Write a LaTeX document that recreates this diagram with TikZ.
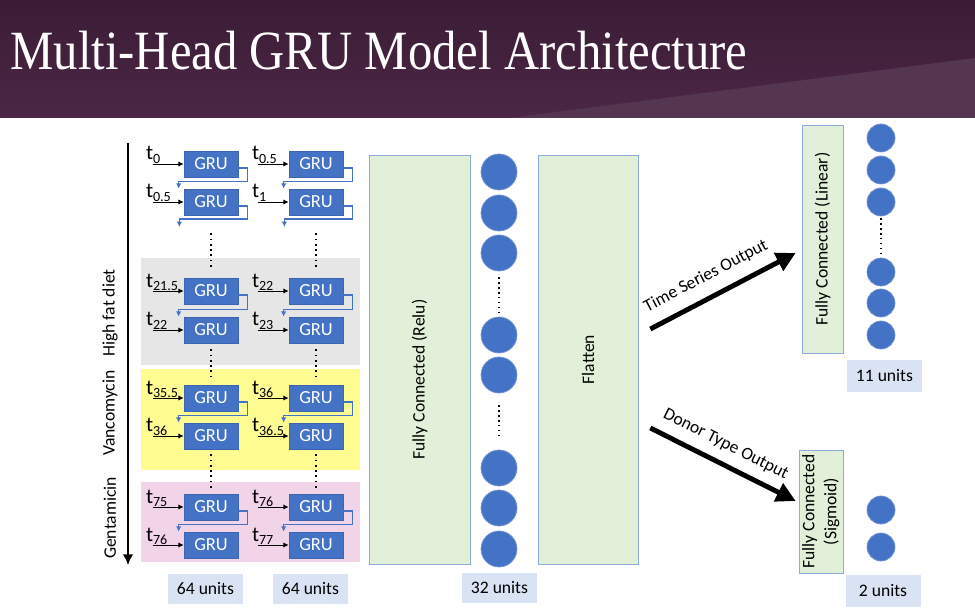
\documentclass[tikz,border=0pt]{standalone}
\usepackage{fontspec}
\setmainfont{Carlito}
\newfontfamily\titlefont[FakeStretch=0.88]{Liberation Serif}
\usepackage{tikz}
\usetikzlibrary{arrows.meta, positioning, shapes.misc}

\definecolor{gruBlue}{RGB}{68,114,196}
\definecolor{gruEdge}{RGB}{60,100,175}
\definecolor{fcGreen}{RGB}{226,240,217}
\definecolor{fcEdge}{RGB}{143,170,220}
\definecolor{unitsBlue}{RGB}{218,227,243}
\definecolor{phaseGray}{RGB}{231,230,230}
\definecolor{phaseYellow}{RGB}{255,252,145}
\definecolor{phasePink}{RGB}{242,212,232}
\definecolor{headTop}{RGB}{58,28,52}
\definecolor{headBottom}{RGB}{76,39,71}
\definecolor{headLight}{RGB}{84,54,80}

\newcommand{\tsub}[1]{t\textsubscript{#1}}

\tikzstyle{gru} = [rectangle, minimum width=1.08cm, minimum height=0.52cm, inner sep=0pt, text centered, draw=gruEdge, fill=gruBlue, text=white, font={\fontsize{10.5pt}{12}\selectfont}]
\tikzstyle{tin} = [anchor=base west, inner sep=0pt, font={\fontsize{12pt}{13}\selectfont}]
\tikzstyle{inarrow} = [-{Latex[length=3pt,width=3pt]}, line width=0.5pt]
\tikzstyle{recur} = [-{Latex[length=3pt,width=3pt]}, draw=gruBlue, line width=0.6pt]
\tikzstyle{skipline} = [dotted, line width=1pt]
\tikzstyle{fcbox} = [rectangle, draw=fcEdge, fill=fcGreen, text centered, inner sep=0pt]
\tikzstyle{unit} = [circle, minimum size=0.72cm, inner sep=0pt, fill=gruBlue, draw=gruBlue!75!white]
\tikzstyle{smallunit} = [unit, minimum size=0.56cm]
\tikzstyle{unitsbox} = [rectangle, minimum width=1.5cm, minimum height=0.6cm, fill=unitsBlue]
\tikzstyle{phaselabel} = [rotate=90, inner sep=1pt, font={\fontsize{10pt}{12}\selectfont}]
\tikzstyle{outarrow} = [line width=2.8pt, -{Triangle[length=11pt,width=11pt]}]
\tikzset{
  font={\fontsize{10pt}{12}\selectfont}}

\begin{document}
\begin{tikzpicture}[node distance = 0.76cm]
    \useasboundingbox (0,0) rectangle (19.5,-12.24);
    \fill[white] (0,0) rectangle (19.5,-12.24);

    % slide header
    \shade[top color=headTop, bottom color=headBottom] (0,0) rectangle (19.5,-2.36);
    \fill[headLight] (10.2,-2.36) -- (19.5,-1.16) -- (19.5,-2.36) -- cycle;
    \node (title) [anchor=base west, text=white, inner sep=0pt, font={\titlefont\fontsize{31.5pt}{36pt}\selectfont}] at (0.20,-1.40) {Multi-Head GRU Model Architecture};

    % treatment phases
    \fill[phaseGray] (2.82,-5.16) rectangle (7.20,-7.30);
    \fill[phaseYellow] (2.82,-7.38) rectangle (7.20,-9.40);
    \fill[phasePink] (2.82,-9.64) rectangle (7.20,-11.24);

    \coordinate (axtop) at (2.56,-2.86);
    \coordinate (axbot) at (2.56,-11.30);
    \draw [line width=1.3pt, -{Latex[length=6pt,width=6pt]}] (axtop) -- (axbot);
    \node (hfd) [phaselabel] at (2.20,-6.26) {High fat diet};
    \node (vanc) [phaselabel] at (2.20,-8.26) {Vancomycin};
    \node (gent) [phaselabel] at (2.20,-10.36) {Gentamicin};

    % GRU layers
    \node (g11) [gru] at (4.22,-3.28) {GRU};
    \node (g12) [gru, below of=g11] {GRU};
    \node (g13) [gru] at (4.22,-5.82) {GRU};
    \node (g14) [gru, below of=g13, yshift=-0.02cm] {GRU};
    \node (g15) [gru] at (4.22,-7.96) {GRU};
    \node (g16) [gru, below of=g15] {GRU};
    \node (g17) [gru] at (4.22,-10.14) {GRU};
    \node (g18) [gru, below of=g17] {GRU};
    \node (g21) [gru, right of=g11, xshift=1.34cm] {GRU};
    \node (g22) [gru, right of=g12, xshift=1.34cm] {GRU};
    \node (g23) [gru, right of=g13, xshift=1.34cm] {GRU};
    \node (g24) [gru, right of=g14, xshift=1.34cm] {GRU};
    \node (g25) [gru, right of=g15, xshift=1.34cm] {GRU};
    \node (g26) [gru, right of=g16, xshift=1.34cm] {GRU};
    \node (g27) [gru, right of=g17, xshift=1.34cm] {GRU};
    \node (g28) [gru, right of=g18, xshift=1.34cm] {GRU};

    \node (t11) [tin] at ([xshift=-0.76cm, yshift=0.08cm]g11.west) {\tsub{0}};
    \node (t12) [tin] at ([xshift=-0.76cm, yshift=0.08cm]g12.west) {\tsub{0.5}};
    \node (t13) [tin] at ([xshift=-0.76cm, yshift=0.08cm]g13.west) {\tsub{21.5}};
    \node (t14) [tin] at ([xshift=-0.76cm, yshift=0.08cm]g14.west) {\tsub{22}};
    \node (t15) [tin] at ([xshift=-0.76cm, yshift=0.08cm]g15.west) {\tsub{35.5}};
    \node (t16) [tin] at ([xshift=-0.76cm, yshift=0.08cm]g16.west) {\tsub{36}};
    \node (t17) [tin] at ([xshift=-0.76cm, yshift=0.08cm]g17.west) {\tsub{75}};
    \node (t18) [tin] at ([xshift=-0.76cm, yshift=0.08cm]g18.west) {\tsub{76}};
    \node (t21) [tin] at ([xshift=-0.74cm, yshift=0.08cm]g21.west) {\tsub{0.5}};
    \node (t22) [tin] at ([xshift=-0.74cm, yshift=0.08cm]g22.west) {\tsub{1}};
    \node (t23) [tin] at ([xshift=-0.74cm, yshift=0.08cm]g23.west) {\tsub{22}};
    \node (t24) [tin] at ([xshift=-0.74cm, yshift=0.08cm]g24.west) {\tsub{23}};
    \node (t25) [tin] at ([xshift=-0.74cm, yshift=0.08cm]g25.west) {\tsub{36}};
    \node (t26) [tin] at ([xshift=-0.74cm, yshift=0.08cm]g26.west) {\tsub{36.5}};
    \node (t27) [tin] at ([xshift=-0.74cm, yshift=0.08cm]g27.west) {\tsub{76}};
    \node (t28) [tin] at ([xshift=-0.74cm, yshift=0.08cm]g28.west) {\tsub{77}};

    \draw [inarrow] ([xshift=0.14cm]t11.west |- g11.west) -- (g11.west);
    \draw [inarrow] ([xshift=0.14cm]t12.west |- g12.west) -- (g12.west);
    \draw [inarrow] ([xshift=0.14cm]t13.west |- g13.west) -- (g13.west);
    \draw [inarrow] ([xshift=0.14cm]t14.west |- g14.west) -- (g14.west);
    \draw [inarrow] ([xshift=0.14cm]t15.west |- g15.west) -- (g15.west);
    \draw [inarrow] ([xshift=0.14cm]t16.west |- g16.west) -- (g16.west);
    \draw [inarrow] ([xshift=0.14cm]t17.west |- g17.west) -- (g17.west);
    \draw [inarrow] ([xshift=0.14cm]t18.west |- g18.west) -- (g18.west);
    \draw [inarrow] ([xshift=0.12cm]t21.west |- g21.west) -- (g21.west);
    \draw [inarrow] ([xshift=0.12cm]t22.west |- g22.west) -- (g22.west);
    \draw [inarrow] ([xshift=0.12cm]t23.west |- g23.west) -- (g23.west);
    \draw [inarrow] ([xshift=0.12cm]t24.west |- g24.west) -- (g24.west);
    \draw [inarrow] ([xshift=0.12cm]t25.west |- g25.west) -- (g25.west);
    \draw [inarrow] ([xshift=0.12cm]t26.west |- g26.west) -- (g26.west);
    \draw [inarrow] ([xshift=0.12cm]t27.west |- g27.west) -- (g27.west);
    \draw [inarrow] ([xshift=0.12cm]t28.west |- g28.west) -- (g28.west);

    % hidden state passed down
    \draw [recur] ([yshift=-0.08cm]g11.east) -- ++(0.18,0) |- ([xshift=-0.1cm, yshift=0.14cm]g12.north west) -- ([xshift=-0.1cm]g12.north west);
    \draw [recur] ([yshift=-0.08cm]g13.east) -- ++(0.18,0) |- ([xshift=-0.1cm, yshift=0.14cm]g14.north west) -- ([xshift=-0.1cm]g14.north west);
    \draw [recur] ([yshift=-0.08cm]g15.east) -- ++(0.18,0) |- ([xshift=-0.1cm, yshift=0.14cm]g16.north west) -- ([xshift=-0.1cm]g16.north west);
    \draw [recur] ([yshift=-0.08cm]g17.east) -- ++(0.18,0) |- ([xshift=-0.1cm, yshift=0.14cm]g18.north west) -- ([xshift=-0.1cm]g18.north west);
    \draw [recur] ([yshift=-0.08cm]g21.east) -- ++(0.18,0) |- ([xshift=-0.1cm, yshift=0.14cm]g22.north west) -- ([xshift=-0.1cm]g22.north west);
    \draw [recur] ([yshift=-0.08cm]g23.east) -- ++(0.18,0) |- ([xshift=-0.1cm, yshift=0.14cm]g24.north west) -- ([xshift=-0.1cm]g24.north west);
    \draw [recur] ([yshift=-0.08cm]g25.east) -- ++(0.18,0) |- ([xshift=-0.1cm, yshift=0.14cm]g26.north west) -- ([xshift=-0.1cm]g26.north west);
    \draw [recur] ([yshift=-0.08cm]g27.east) -- ++(0.18,0) |- ([xshift=-0.1cm, yshift=0.14cm]g28.north west) -- ([xshift=-0.1cm]g28.north west);
    \draw [recur] ([yshift=-0.08cm]g12.east) -- ++(0.18,0) -- ++(0,-0.26) -- ++(-1.36,0) -- ++(0,-0.16);
    \draw [recur] ([yshift=-0.08cm]g22.east) -- ++(0.18,0) -- ++(0,-0.26) -- ++(-1.36,0) -- ++(0,-0.16);

    \draw [skipline] ([yshift=-0.36cm]g12.south) -- ([yshift=0.2cm]g13.north);
    \draw [skipline] ([yshift=-0.12cm]g14.south) -- ([yshift=0.14cm]g15.north);
    \draw [skipline] ([yshift=-0.1cm]g16.south) -- ([yshift=0.12cm]g17.north);
    \draw [skipline] ([yshift=-0.36cm]g22.south) -- ([yshift=0.2cm]g23.north);
    \draw [skipline] ([yshift=-0.12cm]g24.south) -- ([yshift=0.14cm]g25.north);
    \draw [skipline] ([yshift=-0.1cm]g26.south) -- ([yshift=0.12cm]g27.north);

    \node (u64a) [unitsbox] at (4.11,-11.78) {64 units};
    \node (u64b) [unitsbox] at (6.21,-11.78) {64 units};

    % dense + flatten
    \node (relu) [fcbox, minimum width=2.02cm, minimum height=8.18cm] at (8.39,-7.19) {};
    \node (relutxt) at ([yshift=-0.4cm]relu.center) {\rotatebox{90}{Fully Connected (Relu)}};

    \node (h1) [unit] at (9.98,-3.44) {};
    \node (h2) [unit] at (9.98,-4.26) {};
    \node (h3) [unit] at (9.98,-5.06) {};
    \node (h4) [unit] at (9.98,-6.70) {};
    \node (h5) [unit] at (9.98,-7.50) {};
    \node (h6) [unit] at (9.98,-9.36) {};
    \node (h7) [unit] at (9.98,-10.16) {};
    \node (h8) [unit] at (9.98,-10.98) {};
    \draw [skipline, line width=0.8pt] ([yshift=-0.12cm]h3.south) -- ([yshift=0.08cm]h4.north);
    \draw [skipline, line width=0.8pt] ([yshift=-0.24cm]h5.south) -- ([yshift=0.2cm]h6.north);
    \node (u32) [unitsbox] at (9.99,-11.75) {32 units};

    \node (flat) [fcbox, minimum width=2.0cm, minimum height=8.18cm] at (11.76,-7.19) {\rotatebox{90}{Flatten}};

    % two output heads
    \node (fclin) [fcbox, minimum width=0.82cm, minimum height=4.56cm] at (16.45,-4.78) {\rotatebox{90}{Fully Connected (Linear)}};
    \node (o1) [smallunit] at (17.62,-2.76) {};
    \node (o2) [smallunit] at (17.62,-3.40) {};
    \node (o3) [smallunit] at (17.62,-4.04) {};
    \node (o4) [smallunit] at (17.62,-5.44) {};
    \node (o5) [smallunit] at (17.62,-6.06) {};
    \node (o6) [smallunit] at (17.62,-6.70) {};
    \draw [skipline, line width=0.8pt] ([yshift=-0.04cm]o3.south) -- ([yshift=0.06cm]o4.north);
    \node (u11) [unitsbox, minimum height=0.64cm] at (17.69,-7.52) {11 units};

    \node (fcsig) [fcbox, minimum width=0.84cm, minimum height=2.46cm, font={\fontsize{10pt}{12.5pt}\selectfont}] at (16.42,-10.23) {\rotatebox{90}{\begin{tabular}{@{}c@{}}Fully Connected\\(Sigmoid)\end{tabular}}};
    \node (d1) [smallunit] at (17.62,-10.20) {};
    \node (d2) [smallunit] at (17.62,-10.94) {};
    \node (u2) [unitsbox, minimum height=0.64cm] at (17.66,-11.82) {2 units};

    \draw [outarrow] ([xshift=0.24cm, yshift=0.61cm]flat.east) -- node[sloped, above=3pt, pos=0.45] {Time Series Output} ([xshift=-0.12cm, yshift=-0.28cm]fclin.west);
    \draw [outarrow] ([xshift=0.24cm, yshift=-1.37cm]flat.east) -- node[sloped, above=2pt, pos=0.46] {Donor Type Output} ([xshift=-0.06cm, yshift=0.21cm]fcsig.west);
\end{tikzpicture}
\end{document}
